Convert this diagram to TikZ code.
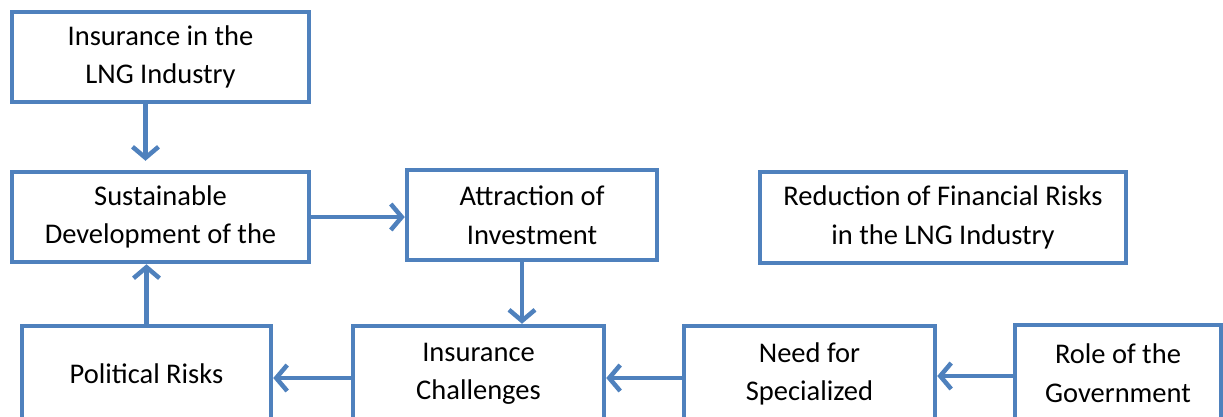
\documentclass[tikz,border=0pt]{standalone}
\usepackage{fontspec}
\setmainfont{Carlito}
\usetikzlibrary{arrows.meta}

\definecolor{boxblue}{HTML}{4F81BD}
\tikzset{
  blk/.style={draw=boxblue, line width=4.5pt, fill=white, align=center,
    inner sep=0pt, font=\fontsize{28.5}{38.5}\selectfont},
  arr/.style={draw=boxblue, line width=4.5pt,
    -{Straight Barb[length=11pt,width=26pt,line width=4.5pt]}}
}

\begin{document}
\begin{tikzpicture}[x=1pt,y=-1pt]
\useasboundingbox (0,0) rectangle (1223,416);
\clip (0,0) rectangle (1223,416);

% top row
\node[blk, minimum width=297pt, minimum height=90pt] (ins) at (160.5,57)
	{Insurance in the\\LNG Industry};
\node[blk, minimum width=297pt, minimum height=90pt] (sust) at (160.5,217)
	{Sustainable\\Development of the};
\node[blk, minimum width=250pt, minimum height=90pt] (attr) at (532,215)
	{Attraction of\\Investment};
\node[blk, minimum width=366pt, minimum height=91pt] (red) at (943,217.5)
	{Reduction of Financial Risks\\in the LNG Industry};

% bottom row
\node[blk, minimum width=249pt, minimum height=96pt] (pol) at (146.5,374)
	{Political Risks};
\node[blk, minimum width=251pt, minimum height=96pt] (chal) at (478.5,374)
	{Insurance\\Challenges};
\node[blk, minimum width=251pt, minimum height=96pt] (need) at (809.5,374)
	{Need for\\Specialized};
\node[blk, minimum width=206pt, minimum height=96pt] (gov) at (1118,373)
	{Role of the\\Government};

 \draw[arr, shorten >=9pt] ([xshift=-15pt]ins.south) -- ([xshift=-15pt]ins.south |- sust.north);
 \draw[arr] (sust.east) -- (sust.east -| attr.west);
 \draw[arr] ([xshift=-10pt]attr.south) -- ([xshift=-10pt]attr.south |- chal.north);
 \draw[arr] ([yshift=-3pt]gov.west) -- ([yshift=-3pt]gov.west -| need.east);
 \draw[arr] ([yshift=-4pt]need.west) -- ([yshift=-4pt]need.west -| chal.east);
 \draw[arr] ([yshift=-4pt]chal.west) -- ([yshift=-4pt]chal.west -| pol.east);
 \draw[arr] (pol.north) -- (pol.north |- sust.south);
\end{tikzpicture}
\end{document}
